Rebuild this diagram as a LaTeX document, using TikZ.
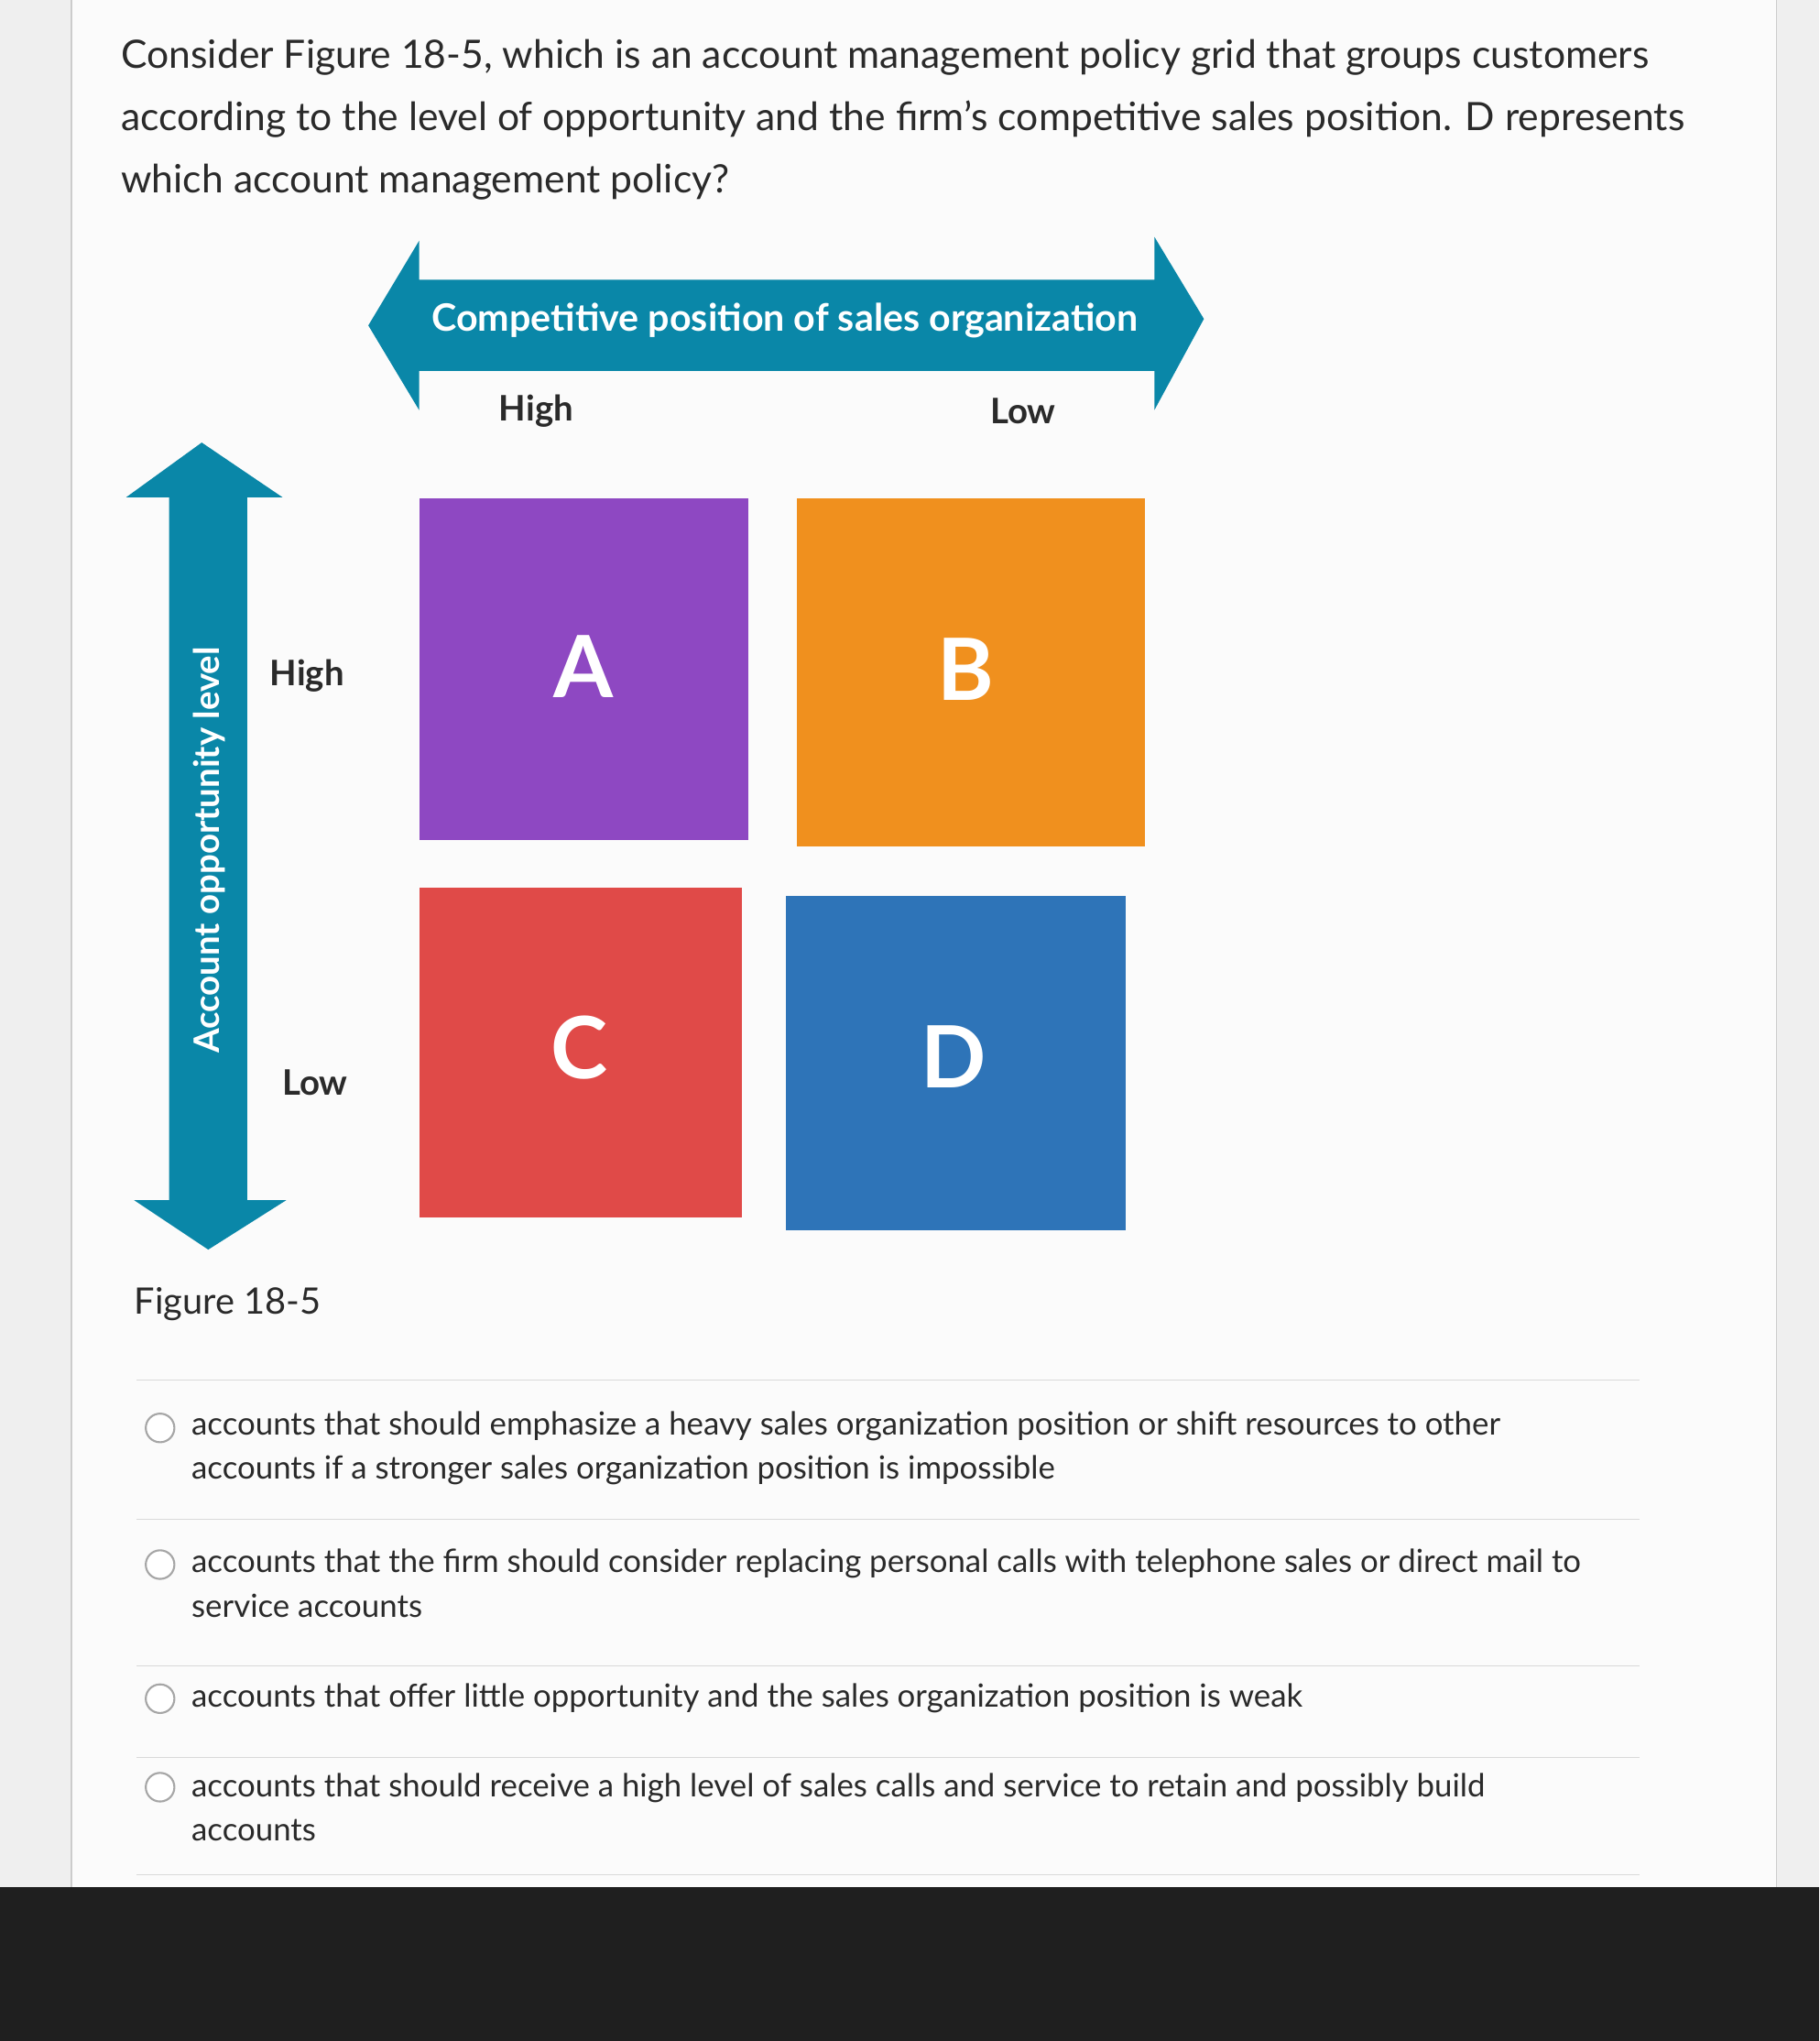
\documentclass[tikz,border=0pt]{standalone}
\usepackage{fontspec}
\setmainfont{Lato}
\definecolor{teal1}{HTML}{0A87A8}
\definecolor{purp}{HTML}{8E48C2}
\definecolor{orng}{HTML}{F0901E}
\definecolor{redd}{HTML}{E04A48}
\definecolor{blu}{HTML}{2E74B8}
\definecolor{bg}{HTML}{EFEFEF}
\definecolor{txt}{HTML}{2A2A2A}
\tikzset{
 body/.style={font=\fontsize{30}{48}\selectfont, text=txt, anchor=west, align=left, inner sep=0},
 opt/.style={font=\fontsize{24.5}{34}\selectfont, text=txt, anchor=north west, align=left, inner sep=0},
 lab/.style={font=\fontsize{27}{30}\selectfont\bfseries, text=txt, inner sep=0},
 letter/.style={font=\fontsize{66}{66}\selectfont\bfseries, text=white},
 radio/.style={draw=gray!70, fill=white, line width=1.5pt},
 sep/.style={draw=gray!30, line width=0.8pt}
}
\begin{document}
\begin{tikzpicture}[x=1pt,y=-1pt]
\useasboundingbox (0,0) rectangle (1398,1568);
\fill[bg] (0,0) rectangle (1398,1568);
\fill[white!97!gray] (55,0) rectangle (1365,1450);
\draw[gray!40, line width=1pt] (55,0) -- (55,1450) (1365,0) -- (1365,1450);
\fill[black!88] (0,1450) rectangle (1398,1568);
\node[body] (q) at (93,92) {Consider Figure 18-5, which is an account management policy grid that groups customers\\according to the level of opportunity and the firm's competitive sales position. D represents\\which account management policy?};
% horizontal arrow
\fill[teal1] (283,250) -- (322,185) -- (322,215) -- (887,215) -- (887,182) -- (925,245) -- (887,315) -- (887,285) -- (322,285) -- (322,315) -- cycle;
\node[font=\fontsize{29}{30}\selectfont\bfseries, text=white] (ht) at (603,246) {Competitive position of sales organization};
\node[lab] (hh) at (412,316) {High};
\node[lab] (hl) at (786,316) {Low};
% vertical arrow
\fill[teal1] (155,340) -- (217,382) -- (190,382) -- (190,922) -- (220,922) -- (160,960) -- (103,922) -- (130,922) -- (130,382) -- (97,382) -- cycle;
\node[font=\fontsize{27}{28}\selectfont\bfseries, text=white, rotate=90] (vt) at (161,653) {Account opportunity level};
\node[lab] (vh) at (236,519) {High};
\node[lab] (vl) at (242,832) {Low};
% squares
\fill[purp] (322,383) rectangle (575,645);
\fill[orng] (612,383) rectangle (880,650);
\fill[redd] (322,682) rectangle (570,935);
\fill[blu] (604,688) rectangle (865,945);
\node[letter] (A) at (448,512) {A};
\node[letter] (B) at (742,514) {B};
\node[letter] (C) at (445,805) {C};
\node[letter] (D) at (733,812) {D};
\node[font=\fontsize{28}{30}\selectfont, text=txt] (fig) at (175,1002) {Figure 18-5};
% separators
\draw[sep] (105,1060) -- (1260,1060);
\draw[sep] (105,1167) -- (1260,1167);
\draw[sep] (105,1280) -- (1260,1280);
\draw[sep] (105,1350) -- (1260,1350);
\draw[sep] (105,1440) -- (1260,1440);
% options
\draw[radio] (123,1097) circle (11);
\node[opt] (o1) at (147,1084) {accounts that should emphasize a heavy sales organization position or shift resources to other\\accounts if a stronger sales organization position is impossible};
\draw[radio] (123,1202) circle (11);
\node[opt] (o2) at (147,1190) {accounts that the firm should consider replacing personal calls with telephone sales or direct mail to\\service accounts};
\draw[radio] (123,1305) circle (11);
\node[opt] (o3) at (147,1293) {accounts that offer little opportunity and the sales organization position is weak};
\draw[radio] (123,1373) circle (11);
\node[opt] (o4) at (147,1362) {accounts that should receive a high level of sales calls and service to retain and possibly build\\accounts};
\end{tikzpicture}
\end{document}
